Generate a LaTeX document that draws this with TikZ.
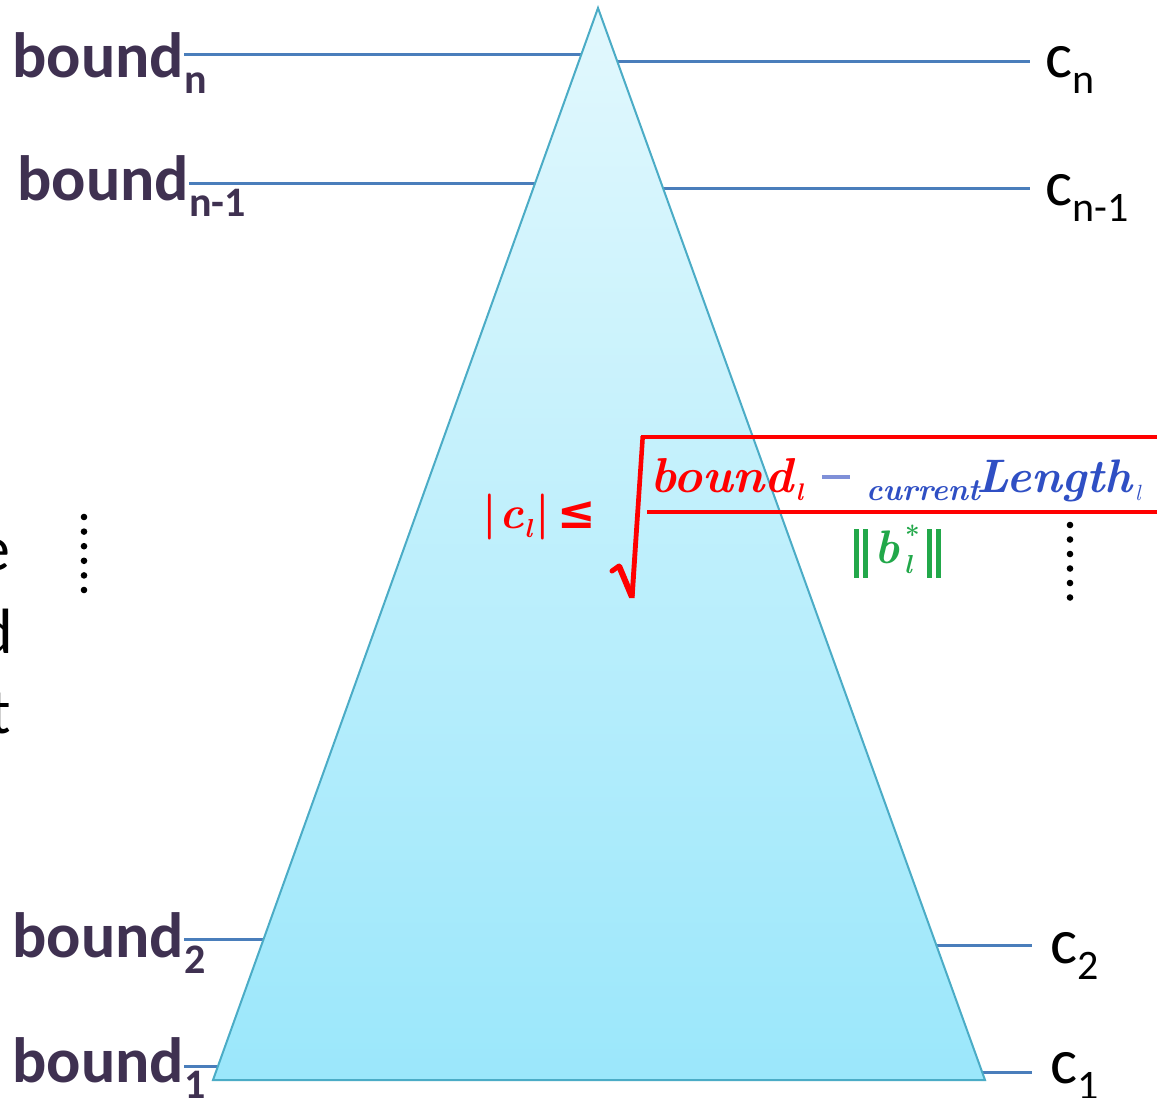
\documentclass[tikz,border=0pt]{standalone}
\usepackage{fontspec}
\newfontfamily\calib{Carlito}
\newfontfamily\dejab{DejaVu Sans}
\usetikzlibrary{calc}
\definecolor{lblcol}{HTML}{3F3151}
\definecolor{linkcol}{HTML}{4A7EBB}
\definecolor{edgecol}{HTML}{4BACC6}
\definecolor{tritop}{HTML}{E2F8FD}
\definecolor{tribot}{HTML}{9BE7FB}
\definecolor{fred}{HTML}{FF0000}
\definecolor{fblue}{HTML}{2F4FC4}
\definecolor{fminus}{HTML}{7F90D8}
\definecolor{fgreen}{HTML}{22A84A}
\newcommand{\lowsub}[1]{\raisebox{-0.265em}{\fontsize{42}{44}\selectfont #1}}
\newcommand{\lowl}[2]{\raisebox{-0.2em}{\fontsize{#1}{#1}\selectfont\itshape #2}}
\begin{document}
\begin{tikzpicture}[x=1pt,y=-1pt,
  bnd/.style={font=\calib\fontsize{64}{70}\selectfont\bfseries, text=lblcol, inner sep=0pt, anchor=base west},
  cl/.style={font=\calib\fontsize{64}{70}\selectfont, text=black, inner sep=0pt, anchor=base west},
  link/.style={draw=linkcol, line width=3pt},
  ftxt/.style={inner sep=0pt, anchor=base west},
  fbar/.style={draw=fred, line width=4pt},
  dotcol/.style={fill=black}]
\useasboundingbox (0,0) rectangle (1157,1098);
\clip (0,0) rectangle (1157,1098);
\fill[white] (0,0) rectangle (1157,1098);
% triangle corners and edge points
\coordinate (apex) at (598,8);
\coordinate (bl) at (213,1080);
\coordinate (br) at (985,1080);
\coordinate (L1) at ($(apex)!0.04384!(bl)$);
\coordinate (L2) at ($(apex)!0.16325!(bl)$);
\coordinate (L3) at ($(apex)!0.86847!(bl)$);
\coordinate (L4) at ($(apex)!0.98694!(bl)$);
\coordinate (R1) at ($(apex)!0.05037!(br)$);
\coordinate (R2) at ($(apex)!0.16884!(br)$);
\coordinate (R3) at ($(apex)!0.87407!(br)$);
\coordinate (R4) at ($(apex)!0.99254!(br)$);
% left labels
\node[bnd] (bn) at (12,77) {bound};
\node[bnd] (bnsub) at (bn.base east) {\lowsub{n}};
\node[bnd] (bn1) at (17,200) {bound};
\node[bnd] (bn1sub) at (bn1.base east) {\lowsub{n-1}};
\node[bnd] (b2) at (12,957) {bound};
\node[bnd] (b2sub) at (b2.base east) {\lowsub{2}};
\node[bnd] (b1) at (12,1082) {bound};
\node[bnd] (b1sub) at (b1.base east) {\lowsub{1}};
% right labels
\node[cl] (cn) at (1045,77) {c};
\node[cl] (cnsub) at (cn.base east) {\lowsub{n}};
\node[cl] (cn1) at (1045,205) {c};
\node[cl] (cn1sub) at (cn1.base east) {\lowsub{n-1}};
\node[cl] (c2) at (1050,963) {c};
\node[cl] (c2sub) at (c2.base east) {\lowsub{2}};
\node[cl] (c1) at (1050,1083) {c};
\node[cl] (c1sub) at (c1.base east) {\lowsub{1}};
% connectors
\draw[link] (bn.east |- L1) -- (L1);
\draw[link] (bn1.east |- L2) -- (L2);
\draw[link] (b2.east |- L3) -- (L3);
\draw[link] (b1.east |- L4) -- (L4);
\draw[link, shorten >=15pt] (R1) -- (R1 -| cn.west);
\draw[link, shorten >=15pt] (R2) -- (R2 -| cn1.west);
\draw[link, shorten >=18pt] (R3) -- (R3 -| c2.west);
\draw[link, shorten >=18pt] (R4) -- (R4 -| c1.west);
% triangle
\shade[top color=tritop, bottom color=tribot] (apex) -- (bl) -- (br) -- cycle;
\draw[edgecol, line width=2pt, line join=miter] (apex) -- (bl) -- (br) -- cycle;
% cut-off letters at the left
\node[cl, anchor=base east] (le) at (11,570) {e};
\node[cl, anchor=base east] (ld) at (13,653) {d};
\node[cl, anchor=base east] (lt) at (11,733) {t};
% dots
\foreach \i in {0,...,5} \fill[dotcol] (84,517+14.6*\i) circle (3.3);
\foreach \i in {0,...,5} \fill[dotcol] (1070,525+14.5*\i) circle (3.3);
% formula: left side
\node[ftxt, text=fred, font=\rmfamily\bfseries\fontsize{46}{50}\selectfont] (lhs) at (482,528) {|\kern3pt\itshape c\lowl{26}{l}\kern3pt\upshape|\kern8pt{\dejab ≤}};
% radical
\draw[fred, line width=5pt, line cap=round] (612,571) -- (619,566);
\draw[fred, line width=6pt] (619,566) -- (632,597);
\fill[fred] (629.5,598) -- (634.5,598) -- (645,436) -- (640.5,436) -- cycle;
\draw[fbar] (641,437) -- (1157,437);
\draw[fbar] (647,512) -- (1157,512);
% numerator
\node[ftxt, text=fred, font=\rmfamily\bfseries\itshape\fontsize{49}{52}\selectfont] (nb) at (650,492) {bound};
\node[ftxt, text=fred, font=\rmfamily\bfseries\itshape\fontsize{24}{26}\selectfont] (nbs) at ($(nb.base east)+(2,8)$) {l};
\draw[fminus, line width=3.5pt] (822,477) -- (850,477);
\node[ftxt, text=fblue, font=\rmfamily\bfseries\itshape\fontsize{31}{34}\selectfont] (cur) at (866,500) {current};
\node[ftxt, text=fblue, font=\rmfamily\bfseries\itshape\fontsize{47}{50}\selectfont] (len) at (976,492) {Length};
\node[ftxt, text=fblue, font=\rmfamily\itshape\fontsize{22}{24}\selectfont] (lens) at ($(len.base east)+(2,8)$) {l};
% denominator
\fill[fgreen] (854,529) rectangle (858.5,578);
\fill[fgreen] (863,529) rectangle (867.5,578);
\fill[fgreen] (927,529) rectangle (931.5,578);
\fill[fgreen] (936,529) rectangle (940.5,578);
\node[ftxt, text=fgreen, font=\rmfamily\bfseries\itshape\fontsize{47}{50}\selectfont] (db) at (874,563) {b};
\node[ftxt, text=fgreen, font=\rmfamily\bfseries\fontsize{26}{28}\selectfont] (dstar) at (905,544) {*};
\node[ftxt, text=fgreen, font=\rmfamily\bfseries\itshape\fontsize{26}{28}\selectfont] (dl) at (904,573) {l};
\end{tikzpicture}
\end{document}
